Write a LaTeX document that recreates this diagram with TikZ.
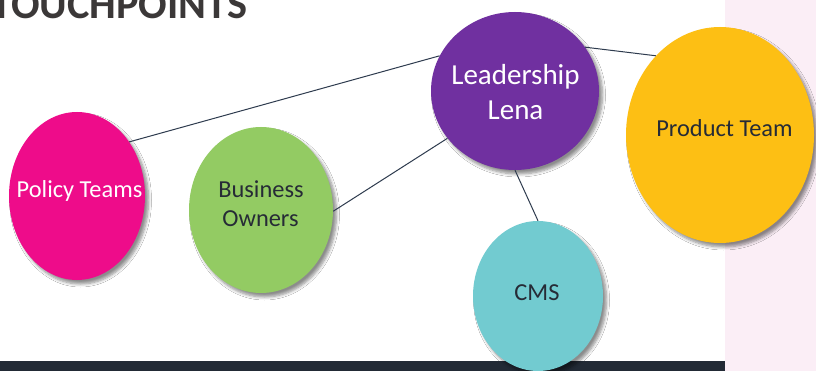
\documentclass[tikz,border=0pt]{standalone}
\usepackage{fontspec}
\setmainfont{Carlito}
\usetikzlibrary{shapes.geometric,shadows.blur}
\definecolor{pinkc}{HTML}{EE0C8A}
\definecolor{greenc}{HTML}{93CB63}
\definecolor{purplec}{HTML}{7030A0}
\definecolor{tealc}{HTML}{72CBD0}
\definecolor{amberc}{HTML}{FDBF14}
\definecolor{darktxt}{HTML}{262B36}
\definecolor{linec}{HTML}{2E3B4E}
\definecolor{barc}{HTML}{222A35}
\definecolor{panelc}{HTML}{FBEEF6}
\definecolor{titlec}{HTML}{3B3838}
\tikzset{
  bubble/.style={ellipse, inner sep=0pt,
    blur shadow={shadow xshift=3.5pt, shadow yshift=-4pt, shadow blur steps=6, shadow blur radius=3pt, shadow opacity=45}},
  lbl/.style={anchor=base, inner sep=0pt, font=\fontsize{24.4}{29}\selectfont},
  biglbl/.style={anchor=base, inner sep=0pt, font=\fontsize{29}{35}\selectfont},
  link/.style={draw=linec, line width=1pt},
}
\begin{document}
\begin{tikzpicture}[x=1pt,y=-1pt]
\useasboundingbox (0,0) rectangle (816,371);
\fill[white] (0,0) rectangle (816,371);
\fill[panelc] (725,0) rectangle (816,371);
\fill[barc] (0,361) rectangle (725,371);
\node[anchor=base west, inner sep=0pt, text=titlec, font=\fontsize{42.3}{42}\selectfont\bfseries] (title) at (-9,19) {TOUCHPOINTS};
% bubbles
\node[bubble, fill=pinkc, minimum width=136pt, minimum height=168pt] (pol) at (77,196) {};
\node[bubble, fill=greenc, minimum width=144pt, minimum height=166pt] (bus) at (261,210) {};
\node[bubble, fill=purplec, minimum width=168pt, minimum height=158pt] (lena) at (515,91) {};
\node[bubble, fill=tealc, minimum width=130pt, minimum height=150pt] (cms) at (538,296) {};
\node[bubble, fill=amberc, minimum width=188pt, minimum height=216pt] (prod) at (720,135) {};
% texts
\node[lbl, text=white] (polt) at (79.5,198) {Policy Teams};
\node[lbl, text=darktxt] (bust1) at (261,198) {Business};
\node[lbl, text=darktxt] (bust2) at (260.5,227) {Owners};
\node[biglbl, text=white] (lenat1) at (515.5,85) {Leadership};
\node[biglbl, text=white] (lenat2) at (515.5,120) {Lena};
\node[lbl, text=darktxt] (cmst) at (537,300) {CMS};
\node[lbl, text=darktxt] (prodt) at (724.5,137) {Product Team};
% connectors
\draw[link] (pol.46.6) -- (lena.155);
\draw[link] (bus.-1) -- (lena.215.6);
\draw[link] (lena.270) -- (cms.90);
\draw[link] (lena.32) -- (prod.129.8);
\end{tikzpicture}
\end{document}
